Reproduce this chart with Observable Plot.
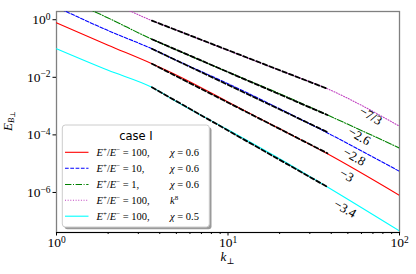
<!DOCTYPE html>
<html>
<head>
<meta charset="utf-8">
<script src="https://cdn.jsdelivr.net/npm/d3@7"></script>
<script src="https://cdn.jsdelivr.net/npm/@observablehq/plot@0.6"></script>
<style>
  html, body { margin: 0; padding: 0; background: white; }
  #chart { width: 416px; height: 274px; }
</style>
</head>
<body>
<div id="chart"></div>
<script>
// ---- data ----
const kGrid   = [1, 2, 3.6, 5.2, 10, 20, 38, 100];
const eRed    = [0.78, 0.13, 0.0295, 0.0107, 1.4e-3, 1.62e-4, 2.2e-5, 7.9e-7];
const eBlue   = [2.75, 0.42, 0.098, 0.035, 6.0e-3, 8.1e-4, 1.17e-4, 5.4e-6];
const eGreen  = [7.5, 1.15, 0.21, 0.081, 0.0152, 2.7e-3, 4.9e-4, 3.5e-5];
const eCyan   = [0.098, 0.0175, 4.5e-3, 1.26e-3, 1.5e-4, 1.48e-5, 1.55e-6, 4.6e-8];
const kPurple = [2.5, 3.6, 5.2, 10, 20, 38, 100];
const ePurple = [2.45, 0.93, 0.40, 0.0855, 0.0174, 4.0e-3, 2.0e-4];

// power-law fit segments (start, end)
const fitK      = [3.6, 38];
const fitPurple = [0.93, 4.0e-3];
const fitGreen  = [0.21, 4.9e-4];
const fitBlue   = [0.098, 1.25e-4];
const fitRed    = [0.0295, 2.3e-5];
const fitCyan   = [4.5e-3, 1.55e-6];

// slope annotations
const annLabels = ["−7/3", "−2.6", "−2.8", "−3", "−3.4"];
const annK      = [67.9, 58.2, 54.5, 49.2, 48.1];
const annE      = [4.6e-4, 8.9e-5, 1.74e-5, 3.9e-6, 2.7e-7];

// axes
const xDomain = [1, 100];
const yDomain = [4.07e-8, 1.93];
const xMajor = [1, 10, 100];
const xMinor = [2, 3, 4, 5, 6, 7, 8, 9, 20, 30, 40, 50, 60, 70, 80, 90];
const yMajor = [1, 1e-2, 1e-4, 1e-6];

// legend
const legendTitle = "case I";
const legendRatio = ["100,", "10,", "1,", "100,", "100,"];
const legendParam = [["χ", " = 0.6"], ["χ", " = 0.6"], ["χ", " = 0.6"], ["k", "8"], ["χ", " = 0.5"]];

// ---- styles ----
const styles = [
  {stroke: "red",     dash: null},
  {stroke: "blue",    dash: "3.7,1.6"},
  {stroke: "green",   dash: "6.4,1.6,1,1.6"},
  {stroke: "#c040c0", dash: "1,1.65"},
  {stroke: "cyan",    dash: null}
];

const toRows = (ks, es) => ks.map((k, i) => ({k, e: es[i]}));
const series = [
  toRows(kGrid, eRed),
  toRows(kGrid, eBlue),
  toRows(kGrid, eGreen),
  toRows(kPurple, ePurple),
  toRows(kGrid, eCyan)
];
const fits = [fitPurple, fitGreen, fitBlue, fitRed, fitCyan].map(f => toRows(fitK, f));
const ann = annLabels.map((t, i) => ({t, k: annK[i], e: annE[i]}));

const serif = "'Liberation Serif', 'DejaVu Serif', serif";

const lineMarks = series.map((d, i) => Plot.line(d, {
  x: "k", y: "e", stroke: styles[i].stroke, strokeWidth: 1.1,
  strokeDasharray: styles[i].dash, curve: "monotone-x", clip: true
}));
const fitMarks = fits.map(d => Plot.line(d, {
  x: "k", y: "e", stroke: "black", strokeWidth: 1.8, strokeDasharray: "4.5,2.5", clip: true
}));

const expFmt = d => String(Math.round(Math.log10(d))).replace("-", "−");

const plot = Plot.plot({
  width: 416,
  height: 274,
  marginLeft: 56,
  marginRight: 17,
  marginTop: 11,
  marginBottom: 42,
  style: {fontFamily: serif, fontSize: "13px", background: "white", color: "black"},
  x: {type: "log", domain: xDomain},
  y: {type: "log", domain: yDomain},
  marks: [
    Plot.frame({stroke: "#808080", strokeWidth: 1.3}),
    Plot.axisX(xMajor, {tickSize: 3.5, tickPadding: 1.5, tickFormat: expFmt, label: null, fontSize: 13.5, fontFamily: serif}),
    Plot.axisX(xMinor, {tickSize: 2, tickFormat: () => "", label: null}),
    Plot.axisY(yMajor, {tickSize: 3.5, tickPadding: 2.5, tickFormat: expFmt, label: null, fontSize: 13.5, fontFamily: serif}),
    Plot.ruleY([yDomain[0]], {stroke: "black", strokeWidth: 1.2}),
    ...lineMarks,
    ...fitMarks,
    Plot.text(ann, {x: "k", y: "e", text: "t", rotate: 30, fontSize: 13, fontFamily: serif, fill: "black"})
  ]
});

document.getElementById("chart").appendChild(plot);

const svg = d3.select(plot);

// superscript tick labels: 10^n
svg.selectAll('[aria-label$="tick label"] text').each(function() {
  const t = this.textContent;
  if (!t) return;
  const sel = d3.select(this);
  sel.text("10");
  sel.append("tspan").attr("dy", "-0.45em").attr("font-size", "9.5px").text(t);
});

// axis labels
const yl = svg.append("text")
  .attr("transform", "translate(12,121) rotate(-90)")
  .attr("text-anchor", "middle")
  .attr("font-family", serif)
  .attr("font-size", "13px");
yl.append("tspan").attr("font-style", "italic").text("E");
yl.append("tspan").attr("font-style", "italic").attr("font-size", "8.5px").attr("dy", "2").text("B");
yl.append("tspan").attr("font-size", "7px").attr("dy", "1").text("⊥");

const xl = svg.append("text")
  .attr("x", 227.5).attr("y", 261)
  .attr("text-anchor", "middle")
  .attr("font-family", serif)
  .attr("font-size", "13px");
xl.append("tspan").attr("font-style", "italic").text("k");
xl.append("tspan").attr("font-size", "8.5px").attr("dy", "2.5").text("⊥");

// legend
const lg = svg.append("g").attr("text-anchor", "start");
lg.append("rect").attr("x", 64.5).attr("y", 127.2).attr("width", 147).attr("height", 102)
  .attr("rx", 3).attr("fill", "#9a9a9a");
lg.append("rect").attr("x", 62.3).attr("y", 125).attr("width", 147).attr("height", 102)
  .attr("rx", 3).attr("fill", "white").attr("stroke", "#cccccc").attr("stroke-width", 1);
lg.append("text").attr("x", 136).attr("y", 140).attr("text-anchor", "middle")
  .attr("font-family", "'DejaVu Sans', sans-serif").attr("font-size", "11.5px").text(legendTitle);

const rowY = [152.3, 168.3, 184.5, 200.2, 216.2];
styles.forEach((s, i) => {
  const y = rowY[i];
  lg.append("line").attr("x1", 65).attr("x2", 88.5).attr("y1", y).attr("y2", y)
    .attr("stroke", s.stroke).attr("stroke-width", 1.1)
    .attr("stroke-dasharray", s.dash);
  const t = lg.append("text").attr("x", 96.5).attr("y", y + 3.8).attr("text-anchor", "start")
    .attr("font-family", serif).attr("font-size", "10.5px");
  t.append("tspan").attr("font-style", "italic").text("E");
  t.append("tspan").attr("font-size", "7px").attr("dy", "-4").text("+");
  t.append("tspan").attr("dy", "4").text("/");
  t.append("tspan").attr("font-style", "italic").text("E");
  t.append("tspan").attr("font-size", "7px").attr("dy", "-4").text("−");
  t.append("tspan").attr("dy", "4").text(" = " + legendRatio[i]);
  const p = lg.append("text").attr("x", 170).attr("y", y + 3.8).attr("text-anchor", "start")
    .attr("font-family", serif).attr("font-size", "10.5px");
  const [sym, rest] = legendParam[i];
  p.append("tspan").attr("font-style", "italic").text(sym);
  if (sym === "k") {
    p.append("tspan").attr("font-size", "7px").attr("dy", "-4").text(rest);
  } else {
    p.append("tspan").text(rest);
  }
});
</script>
</body>
</html>
